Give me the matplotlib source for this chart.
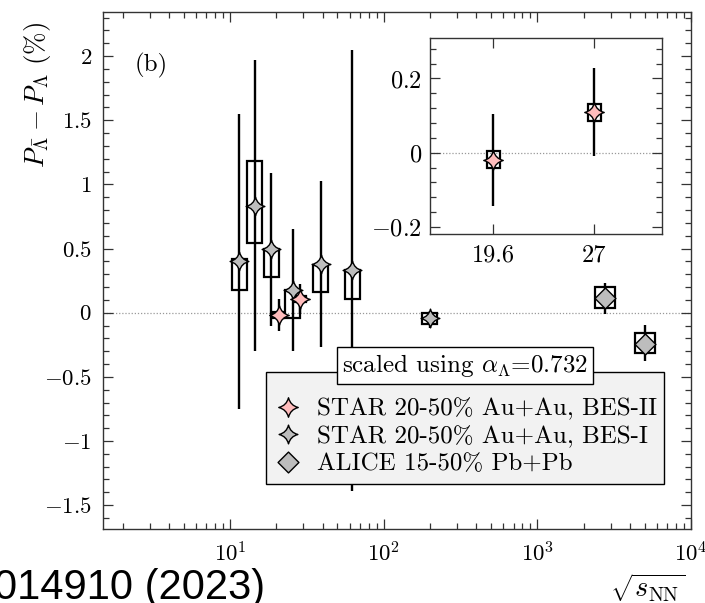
import matplotlib
matplotlib.use('Agg')
import matplotlib.pyplot as plt
import numpy as np
from matplotlib.path import Path
from matplotlib.patches import Rectangle
from matplotlib.lines import Line2D
from matplotlib.ticker import FixedLocator, MultipleLocator, LogLocator, FuncFormatter, NullFormatter

plt.rcParams.update({'font.family': 'serif', 'font.serif': ['cmr10'],
                     'mathtext.fontset': 'cm', 'axes.formatter.use_mathtext': True,
                     'axes.unicode_minus': False})

# STAR BES-I (20-50% Au+Au)
bes1_e = [11.5, 14.5, 19.6, 27, 39, 62.4, 200]
bes1_v = [0.40, 0.83, 0.50, 0.18, 0.38, 0.33, -0.04]
bes1_hi = [1.55, 1.97, 1.09, 0.65, 1.03, 2.05, 0.01]
bes1_lo = [-0.75, -0.30, -0.10, -0.30, -0.27, -1.39, -0.12]
bes1_sys_hi = [0.42, 1.18, 0.50, 0.18, 0.37, 0.33, 0.00]
bes1_sys_lo = [0.18, 0.54, 0.28, -0.04, 0.16, 0.11, -0.09]

# STAR BES-II (20-50% Au+Au)
bes2_e = [19.6, 27]
bes2_v = [-0.02, 0.11]
bes2_hi = [0.105, 0.227]
bes2_lo = [-0.145, -0.01]
bes2_sys_hi = [0.005, 0.131]
bes2_sys_lo = [-0.042, 0.086]

# ALICE 15-50% Pb+Pb
alice_e = [2760, 5020]
alice_v = [0.115, -0.24]
alice_hi = [0.234, -0.095]
alice_lo = [-0.01, -0.38]
alice_sys_hi = [0.20, -0.16]
alice_sys_lo = [0.04, -0.315]

PINK, GRAY, LEG_BG = '#ffbcbc', '#bdbdbd', '#f2f2f2'

# concave 4-point star
_c = 0.2
STAR = Path([(0, 1), (_c, _c), (1, 0), (_c, -_c), (0, -1), (-_c, -_c), (-1, 0), (-_c, _c), (0, 1), (0, 1)],
            [Path.MOVETO] + [Path.CURVE3] * 8 + [Path.CLOSEPOLY])
DIAM = Path([(0, 1), (1, 0), (0, -1), (-1, 0), (0, 1)],
            [Path.MOVETO, Path.LINETO, Path.LINETO, Path.LINETO, Path.CLOSEPOLY])


def series(ax, e, v, hi, lo, shi, slo, marker, fc, ms, boxw, log=True):
    e = np.asarray(e, float); v = np.asarray(v); hi = np.asarray(hi); lo = np.asarray(lo)
    ax.errorbar(e, v, yerr=[v - lo, hi - v], fmt='none', ecolor='black', elinewidth=1.7,
                capsize=0, zorder=2)
    for xi, a, b in zip(e, slo, shi):
        x0, x1 = (xi / boxw, xi * boxw) if log else (xi - boxw, xi + boxw)
        ax.add_patch(Rectangle((x0, a), x1 - x0, b - a, fill=False, ec='black', lw=1.6, zorder=3))
    ax.plot(e, v, ls='none', marker=marker, ms=ms, mfc=fc, mec='black', mew=1.0, zorder=4)


def style_ticks(ax, size):
    ax.tick_params(which='both', direction='in', top=True, right=True, colors='#333333',
                   labelcolor='black', labelsize=size, width=0.9)
    ax.tick_params(which='major', length=7)
    ax.tick_params(which='minor', length=4.5)
    for s in ax.spines.values():
        s.set_linewidth(1.0); s.set_color('#333333')


fig = plt.figure(figsize=(7.05, 6.03), dpi=100)
ax = fig.add_axes([0.1461, 0.1227, 0.834, 0.8574])
ax.set_xscale('log')
ax.set_xlim(1.49, 1e4)
ax.set_ylim(-1.686, 2.344)
ax.axhline(0, color='#999999', lw=0.9, ls=(0, (1, 1.5)), zorder=1)

# small horizontal offsets of overlapping STAR points (display only)
shift1 = np.array([1.0 if e not in (19.6, 27) else 0.945 for e in bes1_e])
series(ax, np.array(bes1_e) * shift1, bes1_v, bes1_hi, bes1_lo, bes1_sys_hi, bes1_sys_lo,
       STAR, GRAY, 13.5, 1.12)
series(ax, np.array(bes2_e) * 1.055, bes2_v, bes2_hi, bes2_lo, bes2_sys_hi, bes2_sys_lo,
       STAR, PINK, 14, 1.09)
series(ax, alice_e, alice_v, alice_hi, alice_lo, alice_sys_hi, alice_sys_lo,
       DIAM, GRAY, 15, 1.16)

ax.xaxis.set_major_locator(LogLocator(base=10, numticks=10))
ax.xaxis.set_minor_locator(LogLocator(base=10, subs=np.arange(2, 10), numticks=20))
ax.xaxis.set_minor_formatter(NullFormatter())
ax.xaxis.set_major_formatter(FuncFormatter(lambda v, p: r'$10^{%d}$' % round(np.log10(v))))
ax.yaxis.set_major_locator(MultipleLocator(0.5))
ax.yaxis.set_minor_locator(MultipleLocator(0.1))
ax.yaxis.set_major_formatter(FuncFormatter(lambda v, p: r'$%g$' % round(v, 2)))
style_ticks(ax, 16.5)
ax.tick_params(axis='x', which='major', pad=9)
ax.tick_params(axis='y', which='major', pad=8)

ax.text(0.054, 0.897, '(b)', transform=ax.transAxes, ha='left', va='center', fontsize=18)

handles = [Line2D([], [], ls='none', marker=STAR, ms=14, mfc=PINK, mec='black', mew=1.0),
           Line2D([], [], ls='none', marker=STAR, ms=13.5, mfc=GRAY, mec='black', mew=1.0),
           Line2D([], [], ls='none', marker=DIAM, ms=15, mfc=GRAY, mec='black', mew=1.0)]
labels = ['STAR 20-50% Au+Au, BES-II', 'STAR 20-50% Au+Au, BES-I', 'ALICE 15-50% Pb+Pb']
leg = ax.legend(handles, labels, loc='upper left', bbox_to_anchor=(0.277, 0.304, 0.677, 0.0),
                mode='expand', fontsize=18, frameon=True, fancybox=False, framealpha=1,
                facecolor=LEG_BG, edgecolor='black', borderpad=0.35, labelspacing=0.2,
                handlelength=1.1, handletextpad=0.6, borderaxespad=0, title=' ', title_fontsize=9)
leg.get_frame().set_linewidth(1.0)
leg.set_zorder(5)

ax.text(0.615, 0.317, r'scaled using $\alpha_{\Lambda}$=0.732', transform=ax.transAxes,
        ha='center', va='center', fontsize=18, zorder=6,
        bbox=dict(boxstyle='square,pad=0.2', fc='white', ec='black', lw=1.0))

fig.text(0.053, 0.842, r'$P_{\bar{\Lambda}} - P_{\Lambda}\ (\%)$', rotation=90,
         ha='center', va='center', fontsize=19.5)
fig.text(0.918, 0.026, r'$\sqrt{s_{\rm NN}}$', ha='center', va='center', fontsize=20.5)
fig.text(-0.008, 0.006, '014910 (2023)', ha='left', va='baseline', fontsize=30,
         family='Liberation Sans')

# inset: BES-II zoom
axi = fig.add_axes([0.6104, 0.6114, 0.329, 0.3261])
axi.set_xlim(15, 32)
axi.set_ylim(-0.22, 0.31)
axi.axhline(0, color='#999999', lw=0.9, ls=(0, (1, 1.5)), zorder=1)
series(axi, bes2_e, bes2_v, bes2_hi, bes2_lo, bes2_sys_hi, bes2_sys_lo,
       STAR, PINK, 14, 0.48, log=False)
axi.xaxis.set_major_locator(FixedLocator(bes2_e))
axi.xaxis.set_major_formatter(FuncFormatter(lambda v, p: '%g' % v))
axi.yaxis.set_major_locator(MultipleLocator(0.2))
axi.yaxis.set_minor_locator(MultipleLocator(0.04))
axi.yaxis.set_major_formatter(FuncFormatter(lambda v, p: r'$%g$' % round(v, 2)))
style_ticks(axi, 17.5)
axi.tick_params(axis='x', which='major', pad=7)
axi.tick_params(axis='y', which='major', pad=6)

fig.savefig('out.png', dpi=100)
